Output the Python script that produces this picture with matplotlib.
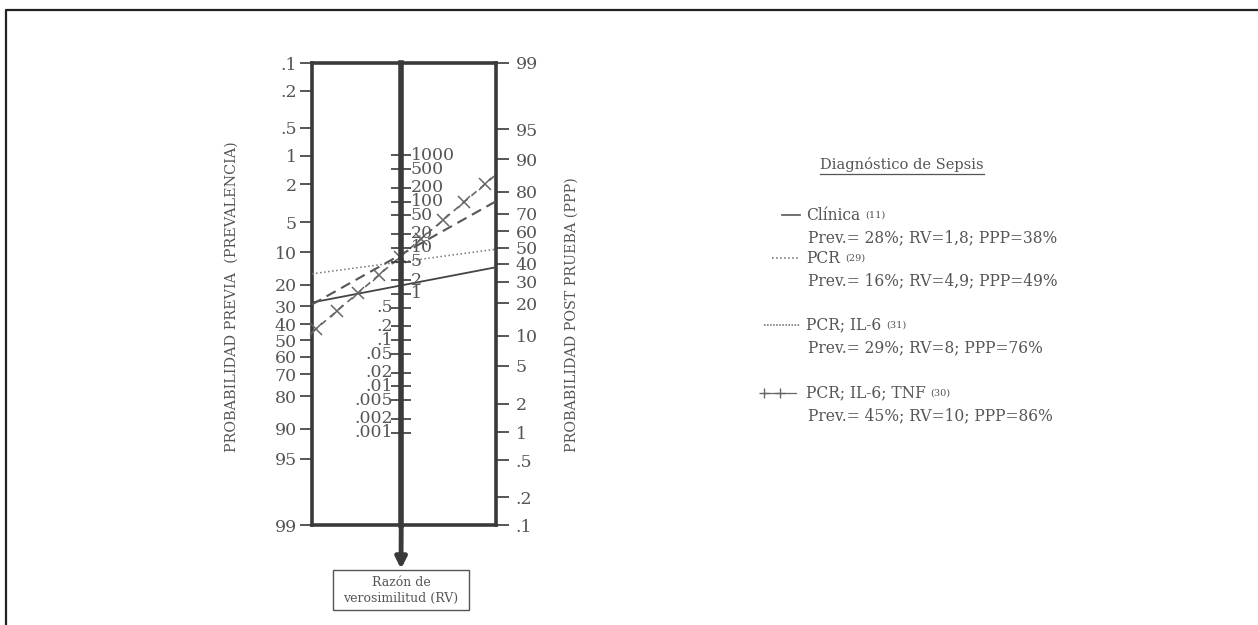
import numpy as np
import matplotlib.pyplot as plt
from matplotlib.lines import Line2D
from matplotlib.patches import Rectangle
from matplotlib.ticker import FixedLocator, NullLocator
from matplotlib.transforms import blended_transform_factory

W, H = 1258, 625

# scales of the nomogram
pre_ticks = [0.1, 0.2, 0.5, 1, 2, 5, 10, 20, 30, 40, 50, 60, 70, 80, 90, 95, 99]
pre_labels = ['.1', '.2', '.5', '1', '2', '5', '10', '20', '30', '40',
              '50', '60', '70', '80', '90', '95', '99']
post_ticks = [99, 95, 90, 80, 70, 60, 50, 40, 30, 20, 10, 5, 2, 1, 0.5, 0.2, 0.1]
post_labels = ['99', '95', '90', '80', '70', '60', '50', '40', '30', '20',
               '10', '5', '2', '1', '.5', '.2', '.1']
lr_ticks = [1000, 500, 200, 100, 50, 20, 10, 5, 2, 1,
            0.5, 0.2, 0.1, 0.05, 0.02, 0.01, 0.005, 0.002, 0.001]
lr_labels = ['1000', '500', '200', '100', '50', '20', '10', '5', '2', '1',
             '.5', '.2', '.1', '.05', '.02', '.01', '.005', '.002', '.001']

# studies (legend values)
studies = ['Clínica', 'PCR', 'PCR; IL-6', 'PCR; IL-6; TNF']
refs = ['(11)', '(29)', '(31)', '(30)']
prev = [28, 16, 29, 45]
rv = ['1,8', '4,9', '8', '10']
ppp = [38, 49, 76, 86]

TXT = '#555555'
INK = '#3a3a3a'
plt.rcParams['font.family'] = ['DejaVu Serif']


def fx(px):
    return px / W


def fy(py):
    return 1 - py / H


fig = plt.figure(figsize=(W / 100, H / 100), dpi=100)

# outer frame (top and left edges only)
fig.add_artist(Line2D([fx(6), fx(6), 1], [0, fy(10), fy(10)],
                      transform=fig.transFigure, color='#222222', lw=1.6))

rect = [fx(312), fy(525), fx(496) - fx(312), fy(63) - fy(525)]
lo, hi = 0.001, 0.99

# --- left scale: pretest probability ---
axL = fig.add_axes(rect)
axL.set_xlim(0, 1)
axL.set_yscale('logit')
axL.set_ylim(hi, lo)
axL.yaxis.set_major_locator(FixedLocator([v / 100 for v in pre_ticks]))
axL.yaxis.set_minor_locator(NullLocator())
axL.set_yticklabels(pre_labels)
axL.tick_params(axis='y', direction='out', length=9, width=1.2, pad=2,
                labelsize=12.5, labelcolor=TXT, color=INK)
axL.set_xticks([])
for s in axL.spines.values():
    s.set_linewidth(2.6)
    s.set_color(INK)

# --- right scale: post-test probability ---
axR = axL.twinx()
axR.set_yscale('logit')
axR.set_ylim(lo, hi)
axR.yaxis.set_major_locator(FixedLocator([v / 100 for v in post_ticks]))
axR.yaxis.set_minor_locator(NullLocator())
axR.set_yticklabels(post_labels)
axR.tick_params(axis='y', direction='out', length=9, width=1.2, pad=5,
                labelsize=12.5, labelcolor=TXT, color=INK)
for s in axR.spines.values():
    s.set_visible(False)

# --- middle scale: likelihood ratio ---
span = np.log(hi / (1 - hi)) - np.log(lo / (1 - lo))
mid = 0.485
axM = fig.add_axes(rect)
axM.patch.set_alpha(0)
axM.set_yscale('log')
axM.set_ylim(np.exp(-span), np.exp(span))
axM.set_xlim(0, 1)
axM.set_xticks([])
for k in ['top', 'bottom', 'right']:
    axM.spines[k].set_visible(False)
axM.spines['left'].set_position(('axes', mid))
axM.spines['left'].set_linewidth(4)
axM.spines['left'].set_color(INK)
axM.yaxis.set_major_locator(FixedLocator(lr_ticks))
axM.yaxis.set_minor_locator(NullLocator())
axM.tick_params(axis='y', direction='inout', length=14, width=1.2,
                labelleft=False, color=INK)
btr = blended_transform_factory(axM.transAxes, axM.transData)
for v, lab in zip(lr_ticks, lr_labels):
    if v >= 1:
        axM.text(mid + 0.05, v, lab, transform=btr, ha='left', va='center',
                 fontsize=12.5, color=TXT)
    else:
        axM.text(mid - 0.045, v, lab, transform=btr, ha='right', va='center',
                 fontsize=12.5, color=TXT)


def axes_y(ax, p):
    d = ax.transData.transform((0.5, p))
    return ax.transAxes.inverted().transform(d)[1]


styles = [
    dict(ls='-', lw=1.3, color='#444444'),
    dict(ls=':', lw=1.1, color='#777777'),
    dict(ls=(0, (5, 3)), lw=1.5, color='#555555'),
    dict(ls=(0, (4, 3)), lw=1.2, color='#666666'),
]
for i in range(4):
    y0 = axes_y(axL, prev[i] / 100)
    y1 = axes_y(axR, ppp[i] / 100)
    axL.plot([0, 1], [y0, y1], transform=axL.transAxes, clip_on=False,
             zorder=3, **styles[i])
    if i == 3:
        t = np.arange(0.02, 1.0, 0.115)
        axL.plot(t, y0 + t * (y1 - y0), transform=axL.transAxes, ls='none',
                 marker='x', ms=8, mew=1.1, color='#666666', clip_on=False,
                 zorder=3)

# axis titles
fig.text(fx(232), fy(297), 'PROBABILIDAD PREVIA  (PREVALENCIA)', rotation=90,
         ha='center', va='center', fontsize=10.4, color=TXT)
fig.text(fx(572), fy(315), 'PROBABILIDAD POST PRUEBA (PPP)', rotation=90,
         ha='center', va='center', fontsize=10.3, color=TXT)

# arrow and RV box
axM.annotate('', xy=(fx(401), fy(569)), xycoords='figure fraction',
             xytext=(mid, 0), textcoords='axes fraction',
             arrowprops=dict(arrowstyle='-|>', lw=3.5, color=INK,
                             mutation_scale=16, shrinkA=0, shrinkB=0))
fig.add_artist(Rectangle((fx(333), fy(610)), fx(469) - fx(333),
                         fy(570) - fy(610), transform=fig.transFigure,
                         fill=False, ec='#555555', lw=1))
fig.text(fx(401), fy(590), 'Razón de\nverosimilitud (RV)', ha='center',
         va='center', fontsize=9, color=TXT, linespacing=1.3)

# legend
title = fig.text(fx(902), fy(165), 'Diagnóstico de Sepsis', ha='center',
                 va='center', fontsize=10.5, color=TXT)
fig.canvas.draw()
r = fig.canvas.get_renderer()
bb = title.get_window_extent(r)
fig.add_artist(Line2D([bb.x0 / W, bb.x1 / W], [fy(174), fy(174)],
                      transform=fig.transFigure, color=TXT, lw=0.9))

name_y = [215, 258, 325, 393]
samples = [
    dict(x=[782, 800], ls='-', lw=1.3, marker=None),
    dict(x=[772, 800], ls=':', lw=1.1, marker=None),
    dict(x=[764, 800], ls=(0, (1, 1)), lw=1.1, marker=None),
    dict(x=[764, 780, 796], ls='-', lw=0.9, marker='+'),
]
for i in range(4):
    yy = fy(name_y[i])
    s = samples[i]
    fig.add_artist(Line2D([fx(v) for v in s['x']], [yy] * len(s['x']),
                          transform=fig.transFigure, color='#666666',
                          ls=s['ls'], lw=s['lw'], marker=s['marker'], ms=7,
                          markevery=[0, 1] if s['marker'] else None))
    t1 = fig.text(fx(806), yy, studies[i], ha='left', va='center',
                  fontsize=11.2, color=TXT)
    e = t1.get_window_extent(r)
    fig.text(e.x1 / W + fx(5), yy, refs[i], ha='left', va='center',
             fontsize=7, color=TXT)
    fig.text(fx(808), fy(name_y[i] + 23),
             'Prev.= %d%%; RV=%s; PPP=%d%%' % (prev[i], rv[i], ppp[i]),
             ha='left', va='center', fontsize=11.2, color=TXT)

fig.savefig('out.png', dpi=100)
